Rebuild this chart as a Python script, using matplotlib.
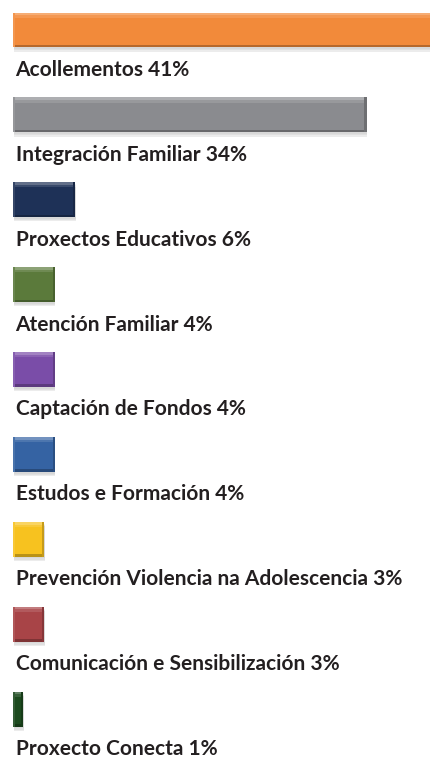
import numpy as np
import matplotlib.pyplot as plt
from matplotlib.colors import to_rgb

# data
labels = ['Acollementos', 'Integración Familiar', 'Proxectos Educativos',
          'Atención Familiar', 'Captación de Fondos', 'Estudos e Formación',
          'Prevención Violencia na Adolescencia', 'Comunicación e Sensibilización',
          'Proxecto Conecta']
values = [41, 34, 6, 4, 4, 4, 3, 3, 1]
colors = ['#F28A3A', '#8A8B8F', '#1E3157', '#5B7A3B', '#7A4DA8',
          '#3563A3', '#F7C21F', '#A84447', '#1C4A1E']

def shade(c, f):
    r = np.array(to_rgb(c))
    if f > 0:
        r = r + (1 - r) * f
    else:
        r = r * (1 + f)
    return tuple(np.clip(r, 0, 1))

fig = plt.figure(figsize=(4.3, 7.59), dpi=100)
ax = fig.add_axes([0, 0, 1, 1])

y = np.arange(len(values))
h = 0.41

# soft drop shadow
for k, a in enumerate([0.10, 0.14, 0.18]):
    ax.barh(y + 0.02 + 0.015 * k, values, height=h, left=0.05, color='#999999',
            alpha=a, lw=0, zorder=1)
# main bar
ax.barh(y, values, height=h, color=colors, zorder=2)
# bevel: lighter top edge, darker bottom and right edges
for i, v in enumerate(values):
    c = colors[i]
    ax.barh(i - h / 2 + 0.015, v, height=0.03, color=shade(c, 0.3), lw=0, zorder=3)
    ax.barh(i - h / 2 + 0.045, v, height=0.03, color=shade(c, 0.12), lw=0, zorder=3)
    ax.barh(i + h / 2 - 0.015, v, height=0.03, color=shade(c, -0.25), lw=0, zorder=3)
    ax.barh(i, 0.2, left=v - 0.2, height=h, color=shade(c, -0.2), lw=0, zorder=3)
    ax.barh(i, 0.15, left=0, height=h, color=shade(c, 0.1), lw=0, zorder=3)

for i, (lab, v) in enumerate(zip(labels, values)):
    ax.text(0.25, i + 0.54, f'{lab} {v}%', fontsize=15, fontweight='bold',
            family='Lato', color='#231f20', va='baseline', ha='left')

ax.set_xlim(-1.25, 40.1)
ax.set_ylim(8.587, -0.353)
ax.axis('off')

plt.savefig('out.png', dpi=100)
